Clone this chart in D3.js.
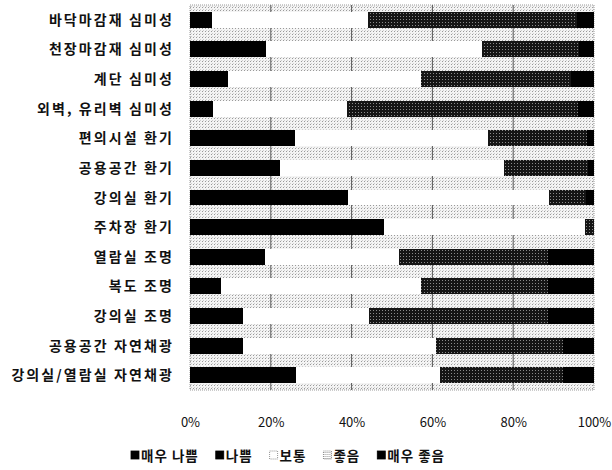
<!DOCTYPE html>
<html>
<head>
<meta charset="utf-8">
<script src="https://cdn.jsdelivr.net/npm/d3@7"></script>
<style>
  body { margin: 0; background: #fff; }
  .cat { font-family: "Noto Sans CJK KR", sans-serif; font-size: 14px; font-weight: 700; letter-spacing: 2.1px; fill: #111; }
  .tick-label { font-family: "Noto Sans CJK KR", sans-serif; font-size: 13px; fill: #111; }
  .legend-text { font-family: "Noto Sans CJK KR", sans-serif; font-size: 13.5px; font-weight: 700; letter-spacing: 1px; fill: #111; }
</style>
</head>
<body>
<svg id="chart" width="612" height="470"></svg>
<script>
// DATA
const categories = [
  "바닥마감재 심미성", "천장마감재 심미성", "계단 심미성", "외벽, 유리벽 심미성",
  "편의시설 환기", "공용공간 환기", "강의실 환기", "주차장 환기",
  "열람실 조명", "복도 조명", "강의실 조명", "공용공간 자연채광", "강의실/열람실 자연채광"
];
const series_names = ["매우 나쁨", "나쁨", "보통", "좋음", "매우 좋음"];

const very_bad  = [1.5, 4.0, 2.0, 1.5, 5.0, 4.3, 9.0, 12.0, 3.6, 1.6, 2.2, 2.2, 5.2];
const bad       = [4.0, 14.8, 7.5, 4.1, 21.0, 18.0, 30.0, 36.0, 15.0, 6.0, 11.0, 11.0, 21.0];
const normal    = [38.6, 53.4, 47.6, 33.2, 47.8, 55.4, 49.9, 49.8, 33.1, 49.7, 31.1, 47.8, 35.8];
const good      = [51.7, 24.1, 37.1, 57.2, 24.4, 20.8, 9.1, 2.2, 37.0, 31.4, 44.4, 31.4, 30.4];
const very_good = [4.2, 3.7, 5.8, 4.0, 1.8, 1.5, 2.0, 0.0, 11.3, 11.3, 11.3, 7.6, 7.6];

const x_ticks = [0, 0.2, 0.4, 0.6, 0.8, 1];

// build rows for d3.stack
const rows = categories.map((c, i) => ({
  cat: c,
  "매우 나쁨": very_bad[i],
  "나쁨": bad[i],
  "보통": normal[i],
  "좋음": good[i],
  "매우 좋음": very_good[i]
}));

const W = 612, H = 470;
const margin = { top: 5, right: 18, bottom: 80, left: 190 };

const svg = d3.select("#chart");

// patterns
const defs = svg.append("defs");
const bg = defs.append("pattern")
  .attr("id", "bgdots").attr("width", 3).attr("height", 3)
  .attr("patternUnits", "userSpaceOnUse");
bg.append("rect").attr("width", 3).attr("height", 3).attr("fill", "#f4f4f4");
bg.append("rect").attr("x", 1).attr("y", 1).attr("width", 1).attr("height", 1).attr("fill", "#9a9a9a");
bg.append("rect").attr("x", 2).attr("y", 0).attr("width", 1).attr("height", 1).attr("fill", "#cfcfcf");

const grid = defs.append("pattern")
  .attr("id", "gooddots").attr("width", 3).attr("height", 3)
  .attr("patternUnits", "userSpaceOnUse");
grid.append("rect").attr("width", 3).attr("height", 3).attr("fill", "#151515");
grid.append("rect").attr("x", 1).attr("y", 1).attr("width", 1).attr("height", 1).attr("fill", "#8a8a8a");

const lightgrid = defs.append("pattern")
  .attr("id", "legdots").attr("width", 2).attr("height", 2)
  .attr("patternUnits", "userSpaceOnUse");
lightgrid.append("rect").attr("width", 2).attr("height", 2).attr("fill", "#fff");
lightgrid.append("rect").attr("width", 1).attr("height", 1).attr("fill", "#999");

const fills = {
  "매우 나쁨": "#000",
  "나쁨": "#000",
  "보통": "#fff",
  "좋음": "url(#gooddots)",
  "매우 좋음": "#000"
};

const x = d3.scaleLinear().domain([0, 1]).range([margin.left, W - margin.right]);
const y = d3.scaleBand().domain(categories).range([margin.top, H - margin.bottom]).paddingInner(0.46).paddingOuter(0.23);

// plot background
svg.append("rect")
  .attr("x", x(0)).attr("y", margin.top)
  .attr("width", x(1) - x(0)).attr("height", H - margin.bottom - margin.top)
  .attr("fill", "url(#bgdots)")
  .attr("stroke", "#999").attr("stroke-dasharray", "1,1");

// gridlines
svg.append("g")
  .selectAll("line")
  .data(x_ticks.slice(1, -1))
  .enter()
  .append("line")
  .attr("x1", (d) => x(d)).attr("x2", (d) => x(d))
  .attr("y1", margin.top).attr("y2", H - margin.bottom)
  .attr("stroke", "#555").attr("stroke-width", 1);

// stacked bars
const stacked = d3.stack().keys(series_names).offset(d3.stackOffsetExpand)(rows);

svg.append("g")
  .attr("shape-rendering", "crispEdges")
  .selectAll("g")
  .data(stacked)
  .enter()
  .append("g")
  .attr("fill", (d) => fills[d.key])
  .selectAll("rect")
  .data((d) => d)
  .enter()
  .append("rect")
  .attr("x", (d) => x(d[0]))
  .attr("y", (d) => y(d.data.cat))
  .attr("width", (d) => x(d[1]) - x(d[0]))
  .attr("height", y.bandwidth());

// category labels
svg.append("g")
  .selectAll("text")
  .data(categories)
  .enter()
  .append("text")
  .attr("class", "cat")
  .attr("x", 174)
  .attr("y", (d) => y(d) + y.bandwidth() / 2)
  .attr("dy", "0.36em")
  .attr("text-anchor", "end")
  .text((d) => d);

// x axis labels
const xAxis = d3.axisBottom(x).tickValues(x_ticks).tickFormat(d3.format(".0%")).tickSize(0).tickPadding(0);
const ax = svg.append("g").attr("transform", `translate(0, 418)`).call(xAxis);
ax.select(".domain").remove();
ax.selectAll("text").attr("class", "tick-label").attr("font-family", null).attr("font-size", null);

// legend
const legend = svg.append("g").attr("transform", "translate(131, 456)");
const legendFills = ["#000", "#000", "#fff", "url(#legdots)", "#000"];
let lx = 0;
series_names.forEach((name, i) => {
  const g = legend.append("g").attr("transform", `translate(${lx}, 0)`);
  g.append("rect")
    .attr("x", 0).attr("y", -5).attr("width", 8).attr("height", 8)
    .attr("fill", legendFills[i])
    .attr("stroke", i === 2 || i === 3 ? "#777" : "#000")
    .attr("stroke-width", 0.8)
    .attr("stroke-dasharray", i === 2 || i === 3 ? "1,1" : null);
  const t = g.append("text")
    .attr("class", "legend-text")
    .attr("x", 10).attr("y", 0).attr("dy", "0.36em")
    .text(name);
  lx += 10 + t.node().getComputedTextLength() + 17;
});
</script>
</body>
</html>
